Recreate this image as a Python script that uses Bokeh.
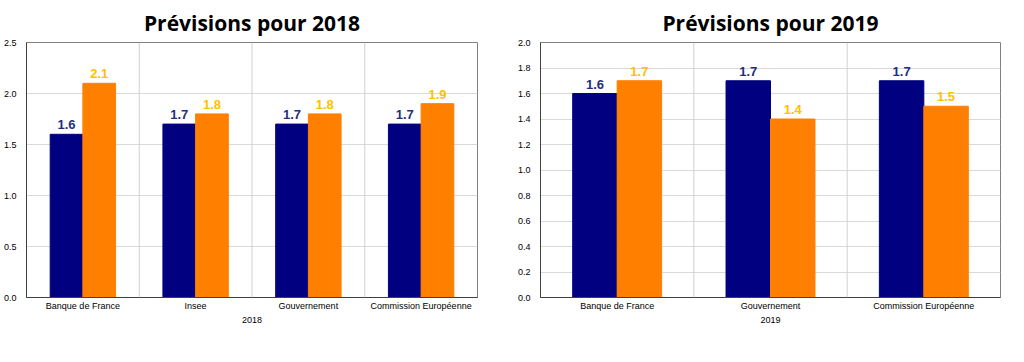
from bokeh.plotting import figure
from bokeh.layouts import row
from bokeh.models import (FactorRange, ColumnDataSource, NumeralTickFormatter, SingleIntervalTicker,
                          Span, Legend, LegendItem)
from bokeh.transform import dodge
from bokeh.embed import file_html
from bokeh.resources import INLINE

# ---- data ----
titles = ["Prévisions pour 2018", "Prévisions pour 2019"]
years = ["2018", "2019"]
cats_2018 = ["Banque de France", "Insee", "Gouvernement", "Commission Européenne"]
pib_2018 = [1.6, 1.7, 1.7, 1.7]
infl_2018 = [2.1, 1.8, 1.8, 1.9]
cats_2019 = ["Banque de France", "Gouvernement", "Commission Européenne"]
pib_2019 = [1.6, 1.7, 1.7]
infl_2019 = [1.7, 1.4, 1.5]
y_max = [2.5, 2.0]
y_step = [0.5, 0.2]
series_names = ["PIB", "Inflation  (IPCH/IPC)¹"]

NAVY = "#000080"
ORANGE = "#FF7F00"
NAVY_TXT = "#1F2F7F"
GOLD_TXT = "#FFC000"
FONT = "Liberation Sans"

def make_chart(title, year, cats, pib, infl, ymax, ystep, border_left, border_right, leg_x):
    factors = [(year, c) for c in cats]
    src = ColumnDataSource(dict(x=factors, pib=pib, infl=infl,
                                pib_t=[f"{v:.1f}" for v in pib],
                                infl_t=[f"{v:.1f}" for v in infl]))
    xr = FactorRange(*factors, range_padding=0, factor_padding=0, group_padding=0)
    p = figure(x_range=xr, y_range=(0, ymax), width=504, height=346,
               output_backend="svg", toolbar_location=None,
               min_border_left=border_left, min_border_right=border_right,
               min_border_top=37, min_border_bottom=49)
    p.title.text = title
    p.title.align = "center"
    p.title.text_font = "Open Sans"
    p.title.text_font_size = "21px"
    p.title.text_font_style = "bold"
    p.title.text_color = "#000000"
    p.title.standoff = 12

    bw = 0.29
    r1 = p.vbar(x=dodge("x", -bw / 2, range=xr), top="pib", width=bw, source=src,
                fill_color=NAVY, line_color=NAVY)
    r2 = p.vbar(x=dodge("x", bw / 2, range=xr), top="infl", width=bw, source=src,
                fill_color=ORANGE, line_color=ORANGE)
    p.text(x=dodge("x", -bw / 2, range=xr), y="pib", text="pib_t", source=src,
           text_align="center", text_baseline="bottom", y_offset=-5,
           text_font_size="13px", text_font_style="bold", text_color=NAVY_TXT,
           text_font={"value": FONT})
    p.text(x=dodge("x", bw / 2, range=xr), y="infl", text="infl_t", source=src,
           text_align="center", text_baseline="bottom", y_offset=-5,
           text_font_size="13px", text_font_style="bold", text_color=GOLD_TXT,
           text_font={"value": FONT})

    # separators between categories
    for i in range(1, len(cats)):
        p.add_layout(Span(location=i, dimension="height", line_color="#d0d0d0", line_width=1))

    p.xgrid.grid_line_color = None
    p.ygrid.grid_line_color = "#d9d9d9"
    p.ygrid.ticker = SingleIntervalTicker(interval=ystep)
    p.outline_line_color = "#808080"

    p.yaxis.ticker = SingleIntervalTicker(interval=ystep)
    p.yaxis.formatter = NumeralTickFormatter(format="0.0")
    p.yaxis.major_label_text_font = FONT
    p.yaxis.major_label_text_font_size = "9px"
    p.yaxis.major_label_text_color = "#000000"
    p.yaxis.axis_line_color = "#404040"
    p.yaxis.major_tick_line_color = None
    p.yaxis.minor_tick_line_color = None
    p.yaxis.major_label_standoff = 4

    p.xaxis.axis_line_color = "#404040"
    p.xaxis.major_tick_line_color = None
    p.xaxis.major_tick_out = 0
    p.xaxis.major_label_text_font = FONT
    p.xaxis.major_label_text_font_size = "9px"
    p.xaxis.major_label_text_color = "#000000"
    p.xaxis.group_text_font = FONT
    p.xaxis.group_text_font_size = "9px"
    p.xaxis.group_text_color = "#000000"
    p.xaxis.group_text_font_style = "normal"
    p.xaxis.separator_line_color = None
    p.xaxis.major_label_standoff = 3
    p.xaxis.group_label_orientation = "horizontal"

    legend = Legend(items=[LegendItem(label=series_names[0], renderers=[r1]),
                           LegendItem(label=series_names[1], renderers=[r2])],
                    orientation="horizontal", location=(leg_x, -49),
                    label_text_font=FONT, label_text_font_size="10px",
                    label_text_font_style="bold", glyph_width=7, glyph_height=7,
                    label_height=10, label_standoff=3, spacing=16, padding=2, margin=0,
                    border_line_color=None, background_fill_alpha=0)
    p.add_layout(legend, "center")
    return p

p1 = make_chart(titles[0], years[0], cats_2018, pib_2018, infl_2018, y_max[0], y_step[0], 18, 27, 155)
p2 = make_chart(titles[1], years[1], cats_2019, pib_2019, infl_2019, y_max[1], y_step[1], 36, 8, 157)
layout = row(p1, p2)
open("out.html", "w").write(file_html(layout, INLINE))
